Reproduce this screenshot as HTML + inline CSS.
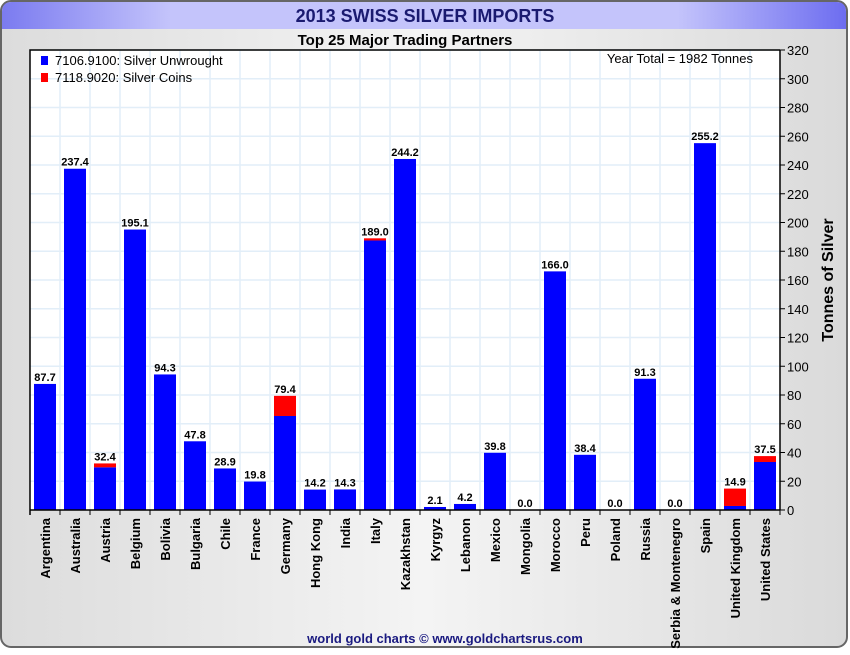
<!DOCTYPE html>
<html><head><meta charset="utf-8"><style>
body{margin:0;width:850px;height:650px;overflow:hidden;background:#fff;font-family:"Liberation Sans",Arial,sans-serif}
</style></head><body>
<svg id="chart" width="850" height="650" xmlns="http://www.w3.org/2000/svg">
<defs>
<linearGradient id="bg" x1="0" x2="1" y1="0" y2="0"><stop offset="0" stop-color="#dcdcdc"/><stop offset="0.5" stop-color="#f4f4f4"/><stop offset="1" stop-color="#dadada"/></linearGradient>
<linearGradient id="tb" x1="0" x2="1" y1="0" y2="0"><stop offset="0" stop-color="#7b7bf0"/><stop offset="0.2" stop-color="#c4c4fb"/><stop offset="0.8" stop-color="#c4c4fb"/><stop offset="1" stop-color="#6d6df0"/></linearGradient>
</defs>
<rect x="1" y="1" width="846" height="646" rx="10" fill="url(#bg)" stroke="#666" stroke-width="2"/>
<path d="M2,29 L2,12 Q2,2 12,2 L836,2 Q846,2 846,12 L846,29 Z" fill="url(#tb)"/>
<text x="425" y="22" text-anchor="middle" font-size="18" font-weight="bold" fill="#1a1a70">2013 SWISS SILVER IMPORTS</text>
<text x="405" y="45" text-anchor="middle" font-size="15" font-weight="bold" fill="#000">Top 25 Major Trading Partners</text>
<rect x="30" y="50" width="750" height="460" fill="#fff"/>
<g id="grid"></g><g id="bars"></g><g id="axes"></g>
<rect x="41" y="56" width="7" height="9" fill="#0000ff"/>
<text x="55" y="65" font-size="13">7106.9100: Silver Unwrought</text>
<rect x="41" y="73" width="7" height="9" fill="#ff0000"/>
<text x="55" y="82" font-size="13">7118.9020: Silver Coins</text>
<text x="753" y="63" text-anchor="end" font-size="13">Year Total = 1982 Tonnes</text>
<text transform="translate(833,280) rotate(-90)" text-anchor="middle" font-size="16" font-weight="bold">Tonnes of Silver</text>
<text x="445" y="643" text-anchor="middle" font-size="13" font-weight="bold" fill="#1a1a80">world gold charts © www.goldchartsrus.com</text>
</svg>
<script>
const categories=["Argentina","Australia","Austria","Belgium","Bolivia","Bulgaria","Chile","France","Germany","Hong Kong","India","Italy","Kazakhstan","Kyrgyz","Lebanon","Mexico","Mongolia","Morocco","Peru","Poland","Russia","Serbia & Montenegro","Spain","United Kingdom","United States"];
const unwrought=[87.7,237.4,29.7,195.1,94.3,47.8,28.9,19.8,65.4,14.2,14.3,187.5,244.2,2.1,4.2,39.8,0,166.0,38.4,0,91.3,0,255.2,2.8,33.4];
const coins=[0,0,2.7,0,0,0,0,0,14.0,0,0,1.5,0,0,0,0,0,0,0,0,0,0,0,12.1,4.1];
const totals=[87.7,237.4,32.4,195.1,94.3,47.8,28.9,19.8,79.4,14.2,14.3,189.0,244.2,2.1,4.2,39.8,0.0,166.0,38.4,0.0,91.3,0.0,255.2,14.9,37.5];
const yTicks=[0,20,40,60,80,100,120,140,160,180,200,220,240,260,280,300,320];
const NS="http://www.w3.org/2000/svg";
const X0=30,X1=780,Y0=510,Y1=50,YMAX=320;
const slot=(X1-X0)/categories.length;
const y=v=>Y0-(v/YMAX)*(Y0-Y1);
const xc=i=>X0+slot*(i+0.5);
function mk(tag,attrs,parent,txt){const e=document.createElementNS(NS,tag);for(const k in attrs)e.setAttribute(k,attrs[k]);if(txt!==undefined)e.textContent=txt;parent.appendChild(e);return e;}
const grid=document.getElementById('grid'),bars=document.getElementById('bars'),axes=document.getElementById('axes');
yTicks.forEach(t=>{if(t>0){const l=mk('line',{x1:X0,x2:X1,y1:y(t),y2:y(t),stroke:'#e2eef8','stroke-width':1.5},grid);

}
const tk=mk('line',{x1:X1,x2:X1+5,y1:y(t),y2:y(t),stroke:'#000'},axes);


const tl=mk('text',{x:X1+7,y:y(t)+5,'font-size':13},axes,String(t));

});
categories.forEach((c,i)=>{
 const gx=X0+slot*(i+1);
 if(i<categories.length-1){const g=mk('line',{x1:gx,x2:gx,y1:Y1,y2:Y0,stroke:'#e2eef8','stroke-width':1.5},grid);
 
 }
 const tk=mk('line',{x1:gx,x2:gx,y1:Y0,y2:Y0+5,stroke:'#000'},axes);
 
 
 const bx=xc(i)-11;
 const b=mk('rect',{x:bx,y:y(unwrought[i]),width:22,height:Y0-y(unwrought[i]),fill:'#0000ff'},bars);
 
 
 if(coins[i]>0){const r=mk('rect',{x:bx,y:y(unwrought[i]+coins[i]),width:22,height:y(unwrought[i])-y(unwrought[i]+coins[i]),fill:'#ff0000'},bars);
 
 }
 const v=mk('text',{x:xc(i),y:y(totals[i])-3,'text-anchor':'middle','font-size':11,'font-weight':'bold'},bars,totals[i].toFixed(1));
 
 
 const cl=mk('text',{transform:`translate(${xc(i)+5},${Y0+8}) rotate(-90)`,'text-anchor':'end','font-size':13,'font-weight':'bold'},axes,c);
 
 
});
const ax=mk('path',{d:`M${X0},${Y0} L${X1},${Y0} M${X1},${Y1} L${X1},${Y0} M${X0},${Y0} L${X0},${Y0+5}`,stroke:'#000','stroke-width':1.5,fill:'none'},axes);


const bd=mk('path',{d:`M${X0},${Y0} L${X0},${Y1} L${X1},${Y1}`,stroke:'#000','stroke-width':1.5,fill:'none'},axes);


</script>
</body></html>
